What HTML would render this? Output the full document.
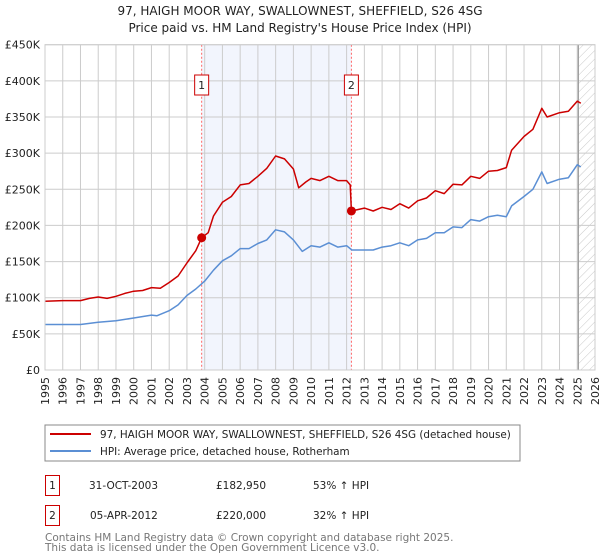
<!DOCTYPE html>
<html><head><meta charset="utf-8"><style>
body{margin:0;background:#fff;font-family:"Liberation Sans","DejaVu Sans",sans-serif;}
#wrap{position:relative;width:600px;height:560px;overflow:hidden;}
svg text{font-family:"DejaVu Sans","Liberation Sans",sans-serif;}
</style></head><body>
<div id="wrap">
<svg id="chart" width="600" height="560" xmlns="http://www.w3.org/2000/svg">
<defs><pattern id="hatch" width="6" height="6" patternUnits="userSpaceOnUse" patternTransform="rotate(45)"><line x1="0" y1="0" x2="0" y2="6" stroke="#bbb" stroke-width="0.8"/></pattern></defs>
<text x="300" y="15" text-anchor="middle" font-size="12" fill="#222">97, HAIGH MOOR WAY, SWALLOWNEST, SHEFFIELD, S26 4SG</text>
<text x="300" y="32" text-anchor="middle" font-size="12" fill="#222">Price paid vs. HM Land Registry's House Price Index (HPI)</text>
<g id="plot"></g>
<rect x="45" y="425" width="475" height="36" fill="#fff" stroke="#888"/>
<line x1="50" y1="434" x2="91" y2="434" stroke="#cc0000" stroke-width="2"/>
<text x="100" y="438" font-size="10.4" fill="#222">97, HAIGH MOOR WAY, SWALLOWNEST, SHEFFIELD, S26 4SG (detached house)</text>
<line x1="50" y1="451" x2="91" y2="451" stroke="#5b8fd4" stroke-width="2"/>
<text x="100" y="455" font-size="10.4" fill="#222">HPI: Average price, detached house, Rotherham</text>
<rect x="45.5" y="475.5" width="14" height="20" fill="#fff" stroke="#cc0000"/>
<text x="52.5" y="489" text-anchor="middle" font-size="10.5" fill="#222">1</text>
<text x="89" y="489" font-size="10.5" fill="#222">31-OCT-2003</text>
<text x="216" y="489" font-size="10.5" fill="#222">£182,950</text>
<text x="313" y="489" font-size="10.5" fill="#222">53% ↑ HPI</text>
<rect x="45.5" y="505.5" width="14" height="20" fill="#fff" stroke="#cc0000"/>
<text x="52.5" y="519" text-anchor="middle" font-size="10.5" fill="#222">2</text>
<text x="90" y="519" font-size="10.5" fill="#222">05-APR-2012</text>
<text x="216" y="519" font-size="10.5" fill="#222">£220,000</text>
<text x="313" y="519" font-size="10.5" fill="#222">32% ↑ HPI</text>
<text x="45" y="541" font-size="10.5" fill="#777">Contains HM Land Registry data © Crown copyright and database right 2025.</text>
<text x="45" y="551" font-size="10.5" fill="#777">This data is licensed under the Open Government Licence v3.0.</text>
</svg></div>
<script>
const yTicks=[0,50,100,150,200,250,300,350,400,450];
const yTickLabels=["£0","£50K","£100K","£150K","£200K","£250K","£300K","£350K","£400K","£450K"];
const xYears=[1995,1996,1997,1998,1999,2000,2001,2002,2003,2004,2005,2006,2007,2008,2009,2010,2011,2012,2013,2014,2015,2016,2017,2018,2019,2020,2021,2022,2023,2024,2025,2026];
const priceT=[1995,1996,1997,1997.5,1998,1998.5,1999,1999.5,2000,2000.5,2001,2001.5,2002,2002.5,2003,2003.5,2003.83,2004.2,2004.5,2005,2005.5,2006,2006.5,2007,2007.5,2008,2008.5,2009,2009.3,2009.7,2010,2010.5,2011,2011.5,2012,2012.2,2012.27,2013,2013.5,2014,2014.5,2015,2015.5,2016,2016.5,2017,2017.5,2018,2018.5,2019,2019.5,2020,2020.5,2021,2021.3,2022,2022.5,2023,2023.3,2024,2024.5,2025,2025.2];
const priceV=[95,96,96,99,101,99,102,106,109,110,114,113,121,130,148,165,183,190,213,232,240,256,258,268,279,296,292,278,252,260,265,262,268,262,262,256,220,224,220,225,222,230,224,234,238,248,244,257,256,268,265,275,276,280,304,323,333,362,350,356,358,372,369];
const hpiT=[1995,1997,1998,1999,2000,2001,2001.3,2002,2002.5,2003,2003.5,2004,2004.5,2005,2005.5,2006,2006.5,2007,2007.5,2008,2008.5,2009,2009.5,2010,2010.5,2011,2011.5,2012,2012.3,2013,2013.5,2014,2014.5,2015,2015.5,2016,2016.5,2017,2017.5,2018,2018.5,2019,2019.5,2020,2020.5,2021,2021.3,2022,2022.5,2023,2023.3,2024,2024.5,2025,2025.2];
const hpiV=[63,63,66,68,72,76,75,82,90,103,112,123,138,151,158,168,168,175,180,194,191,180,164,172,170,176,170,172,166,166,166,170,172,176,172,180,182,190,190,198,197,208,206,212,214,212,227,240,250,274,258,264,266,284,281];
const saleT=[2003.83,2012.27];
const saleV=[182.95,220];
const saleLabels=["1","2"];
const L=45,R=595,T=44.7,B=370;
const xs=t=>L+(t-1995)/(2026-1995)*(R-L);
const ys=v=>B-v/450*(B-T);
const NS="http://www.w3.org/2000/svg";
const g=document.getElementById('plot');
function mk(tag,attrs){const e=document.createElementNS(NS,tag);for(const k in attrs)e.setAttribute(k,attrs[k]);g.appendChild(e);return e;}
let e=mk('rect',{x:xs(saleT[0]),y:T,width:xs(saleT[1])-xs(saleT[0]),height:B-T,fill:'#f2f5fd'});


e=mk('rect',{x:xs(2025.06),y:T,width:R-xs(2025.06),height:B-T,fill:'url(#hatch)'});


xYears.forEach(yr=>{const x=xs(yr);
 let l=mk('line',{x1:x,y1:T,x2:x,y2:B,stroke:'#cccccc','stroke-width':1});
 
 
 let t=mk('text',{x:0,y:0,'font-size':11,fill:'#222','text-anchor':'end',transform:`translate(${x+4},377) rotate(-90)`});
 t.textContent=yr;
 
 
});
yTicks.forEach((v,i)=>{const y=ys(v);
 let l=mk('line',{x1:L,y1:y,x2:R,y2:y,stroke:'#cccccc','stroke-width':1});
 
 
 let t=mk('text',{x:40,y:y+4,'font-size':11,fill:'#222','text-anchor':'end'});
 t.textContent=yTickLabels[i];
 
 
});
e=mk('line',{x1:xs(2025.06),y1:T,x2:xs(2025.06),y2:B,stroke:'#999','stroke-width':1.2});


saleT.forEach((t,i)=>{const x=xs(t);
 let l=mk('line',{x1:x,y1:T,x2:x,y2:B,stroke:'#ff6666','stroke-width':1,'stroke-dasharray':'2,2'});
 
 
 let r=mk('rect',{x:x-7,y:75,width:14,height:20,fill:'#fff',stroke:'#cc0000'});
 
 
 let tx=mk('text',{x:x,y:89,'font-size':11,fill:'#222','text-anchor':'middle'});
 tx.textContent=saleLabels[i];
 
 
});
function line(tA,vA,color,name){const d=tA.map((t,i)=>(i?'L':'M')+xs(t).toFixed(1)+','+ys(vA[i]).toFixed(1)).join('');
 const p=mk('path',{d:d,fill:'none',stroke:color,'stroke-width':1.5,'stroke-linejoin':'round'});
 
 }
line(hpiT,hpiV,'#5b8fd4','hpi-line');
line(priceT,priceV,'#cc0000','price-line');
saleT.forEach((t,i)=>{const c=mk('circle',{cx:xs(t),cy:ys(saleV[i]),r:4.5,fill:'#cc0000'});
 
 });
e=mk('rect',{x:L,y:T,width:R-L,height:B-T,fill:'none',stroke:'#cccccc'});


</script>
</body></html>
